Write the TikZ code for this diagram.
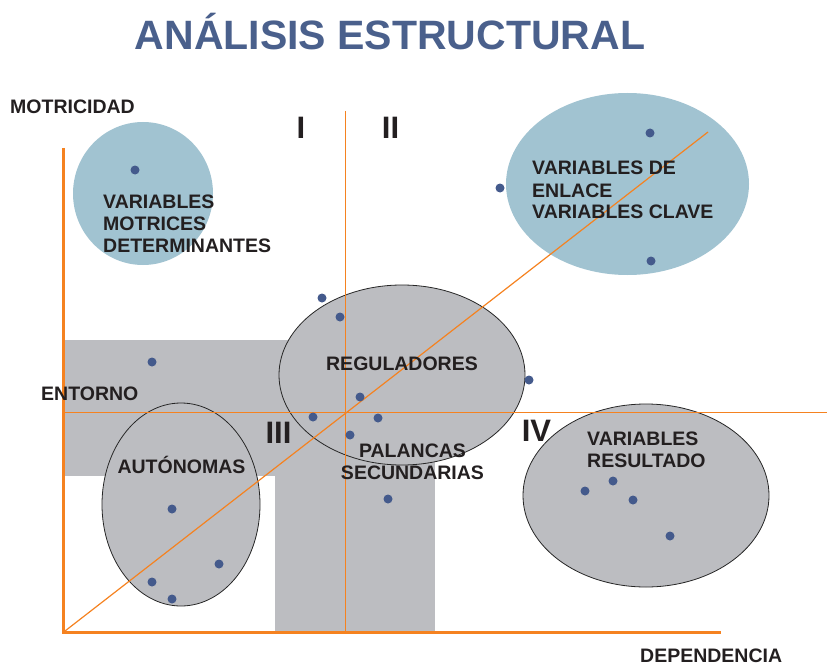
\documentclass[tikz,border=0pt]{standalone}
\usepackage{fontspec}
\setmainfont{Liberation Sans}
\usetikzlibrary{shapes.geometric}
\definecolor{axisor}{RGB}{245,130,32}
\definecolor{regiongray}{RGB}{188,189,193}
\definecolor{blueell}{RGB}{161,195,209}
\definecolor{dotblue}{RGB}{68,90,140}
\definecolor{titleblue}{RGB}{74,96,140}
\definecolor{txt}{RGB}{35,31,32}
\tikzset{
  axisline/.style={draw=axisor, line width=3pt},
  guideline/.style={draw=axisor, line width=1.2pt},
  grayell/.style={ellipse, draw=black!85, line width=0.8pt, fill=regiongray, inner sep=0},
  blueellipse/.style={ellipse, fill=blueell, inner sep=0},
  dot/.style={circle, fill=dotblue, inner sep=0, minimum size=9pt},
  lbl/.style={font=\fontsize{19.5}{22}\selectfont\bfseries, text=txt, inner sep=0, anchor=base west},
  lblc/.style={lbl, anchor=base},
  roman/.style={font=\fontsize{31}{31}\selectfont\bfseries, text=txt, inner sep=0, anchor=base},
  titlestyle/.style={font=\fontsize{41}{41}\selectfont\bfseries, text=titleblue, inner sep=0, anchor=base}
}
\begin{document}
\begin{tikzpicture}[x=1pt,y=-1pt]
\useasboundingbox (0,0) rectangle (827,666);
% gray regions
\fill[regiongray] (63,340) rectangle (300,476);
\fill[regiongray] (275,400) rectangle (435,632);
% ellipses
\node[blueellipse, minimum width=140pt, minimum height=143pt] (motrices) at (143,193.5) {};
\node[blueellipse, minimum width=243pt, minimum height=182pt] (enlace) at (627.5,184) {};
\node[grayell, minimum width=246pt, minimum height=180pt] (regul) at (402,375) {};
\node[grayell, minimum width=158pt, minimum height=203pt] (auton) at (181,504.5) {};
\node[grayell, minimum width=246pt, minimum height=183pt] (result) at (646,495.5) {};
% guide lines
\coordinate (vtop) at (345.5,111);
\coordinate (vbot) at (345.5,632);
\coordinate (hleft) at (63,412.5);
\coordinate (hright) at (827,412.5);
\coordinate (dstart) at (65,631);
\coordinate (dend) at (708,132);
\draw[guideline] (vtop) -- (vbot);
\draw[guideline] (hleft) -- (hright);
\draw[guideline] (dstart) -- (dend);
% axes
\coordinate (origin) at (63,632);
\coordinate (ytop) at (63,148);
\coordinate (xend) at (721,632);
\draw[axisline] (ytop) -- (origin) -- (xend);
% dots
\node[dot] (d1) at (135,170) {};
\node[dot] (d2) at (500,188) {};
\node[dot] (d3) at (650,133) {};
\node[dot] (d4) at (651,261) {};
\node[dot] (d5) at (322,298) {};
\node[dot] (d6) at (340,317) {};
\node[dot] (d7) at (152,362) {};
\node[dot] (d8) at (529,380) {};
\node[dot] (d9) at (360,397) {};
\node[dot] (d10) at (313,417) {};
\node[dot] (d11) at (378,418) {};
\node[dot] (d12) at (350,435) {};
\node[dot] (d13) at (388,499) {};
\node[dot] (d14) at (172,509) {};
\node[dot] (d15) at (219,564) {};
\node[dot] (d16) at (152,582) {};
\node[dot] (d17) at (172,599) {};
\node[dot] (d18) at (585,491) {};
\node[dot] (d19) at (613,481) {};
\node[dot] (d20) at (633,500) {};
\node[dot] (d21) at (670,536) {};
% texts
\node[titlestyle] (title) at (390,50) {ANÁLISIS ESTRUCTURAL};
\node[lbl] (motricidad) at (10,114) {MOTRICIDAD};
\node[lbl] (dependencia) at (640,662) {DEPENDENCIA};
\node[lbl] (vm1) at (103,208) {VARIABLES};
\node[lbl] (vm2) at (103,230) {MOTRICES};
\node[lbl] (vm3) at (103,252) {DETERMINANTES};
\node[lbl] (ve1) at (532,175) {VARIABLES DE};
\node[lbl] (ve2) at (532,197) {ENLACE};
\node[lbl] (ve3) at (532,218) {VARIABLES CLAVE};
\node[lblc] (reglbl) at (402,370) {REGULADORES};
\node[lbl] (entorno) at (41,400) {ENTORNO};
\node[lblc] (autlbl) at (181.5,473) {AUTÓNOMAS};
\node[lblc] (pal1) at (412.5,457) {PALANCAS};
\node[lblc] (pal2) at (412.5,479) {SECUNDARIAS};
\node[lbl] (vr1) at (587,445) {VARIABLES};
\node[lbl] (vr2) at (587,467) {RESULTADO};
\node[roman] (q1) at (301,139) {I};
\node[roman] (q2) at (390.5,139) {II};
\node[roman] (q3) at (278.5,443) {III};
\node[roman] (q4) at (536.5,441) {IV};
\end{tikzpicture}
\end{document}
